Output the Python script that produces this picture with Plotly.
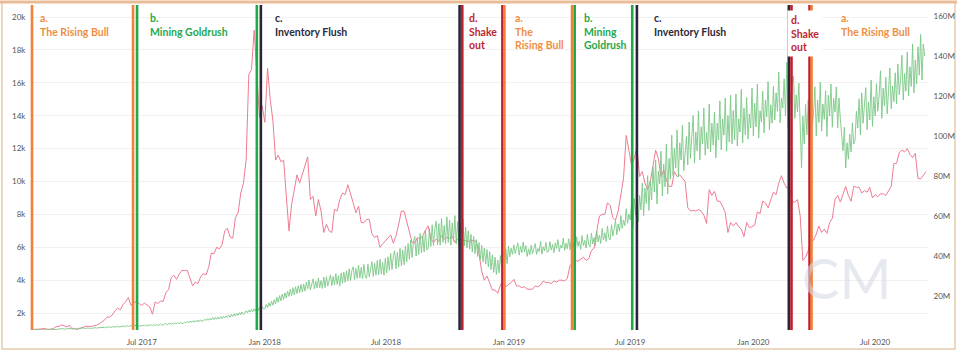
import pandas as pd
import plotly.graph_objects as go

# ---------------- data ----------------
price_start = "2017-01-18"    # price: one sample every 4 days
price_step = "4D"
metric_start = "2017-01-18"   # metric: one sample every 2 days
metric_step = "2D"

# price (left axis, USD)
price = [
    990, 1000, 1010, 1020,                                   # 2017 Jan
    1030, 1060, 1000, 1010, 1050, 1170, 1190,                # Feb
    1280, 1230, 1170, 1250, 1030, 1040, 1010, 1070,          # Mar
    1140, 1190, 1200, 1180, 1230, 1250, 1330,                # Apr
    1450, 1560, 1750, 1760, 1880, 2140, 2300, 2200,          # May
    2520, 2690, 2950, 2460, 2620, 2700, 2580,                # Jun
    2460, 2610, 2500, 2360, 1930, 2670, 2580, 2730,          # Jul
    2710, 3230, 3420, 4150, 4300, 4050, 4360, 4600,          # Aug
    4580, 4600, 4130, 3650, 3880, 3790, 4200,                # Sep
    4400, 4320, 4780, 5650, 5600, 6000, 5900, 6140,          # Oct
    7000, 7150, 6620, 6550, 7800, 8100, 9300, 9900,          # Nov
    11300, 16500, 16800, 19200, 16600, 13900, 14600,         # Dec
    13600, 16900, 15000, 13700, 11300, 11600, 11200, 11300,  # 2018 Jan
    8900, 7000, 8600, 9500, 10400, 9900, 10400,              # Feb
    11000, 11500, 8900, 9100, 7900, 8900, 8200, 6900,        # Mar
    7400, 7000, 6900, 8300, 8200, 8900, 9300,                # Apr
    9200, 9800, 9300, 8700, 8100, 8500, 7500, 7500,          # May
    7700, 7700, 6800, 6600, 6700, 6000, 6200, 6400,          # Jun
    6600, 6750, 6250, 6700, 7400, 8200, 8200,                # Jul
    7600, 7000, 6300, 6250, 6600, 6500, 6700, 7050,          # Aug
    7300, 6500, 6300, 6500, 6350, 6700, 6500, 6600,          # Sep
    6550, 6650, 6300, 6500, 6450, 6450, 6400,                # Oct
    6350, 6400, 6400, 6350, 5600, 4550, 4000, 4250,          # Nov
    3850, 3400, 3400, 3200, 3700, 3950, 3600, 3700,          # Dec
    3850, 4050, 3650, 3650, 3550, 3600, 3450,                # 2019 Jan
    3450, 3450, 3650, 3600, 3700, 3950, 3850,                # Feb
    3850, 3800, 3950, 3880, 4000, 4000, 3950, 4100,          # Mar
    4900, 5050, 5200, 5150, 5300, 5400, 5200, 5300,          # Apr
    5800, 5950, 7000, 7900, 8000, 8000, 8700,                # May
    8550, 7800, 7650, 8200, 9300, 10200, 12800, 12000,       # Jun
    11000, 11400, 12100, 10300, 10600, 9900, 9500, 10000,    # Jul
    10900, 11900, 11400, 10300, 10700, 10100, 9700,          # Aug
    9700, 10600, 10300, 10400, 10200, 10000, 8400, 8200,     # Sep
    8250, 8200, 8300, 8200, 7950, 7450, 9500, 9150,          # Oct
    9400, 8800, 8800, 8500, 8100, 6900, 7500,                # Nov
    7300, 7500, 7250, 7100, 6650, 7500, 7200, 7250,          # Dec
    7350, 8150, 8050, 8800, 8700, 8400, 8900, 9350,          # 2020 Jan
    9200, 9900, 10350, 9900, 9600, 9650, 8750,               # Feb
    8750, 8900, 7900, 5200, 5400, 5800, 6400, 6430,          # Mar
    6800, 7300, 6900, 7100, 6850, 7500, 7750,                # Apr
    8900, 9150, 8750, 9300, 9700, 9150, 8800, 9700,          # May
    9650, 9650, 9300, 9450, 9350, 9650, 9000,                # Jun
    9200, 9070, 9250, 9250, 9150, 9400, 9700, 11100,         # Jul
    11100, 11750, 11900, 11800, 12000, 11650, 11450, 11700,  # Aug
    10200, 10150, 10400, 10600,                              # Sep
]

# metric (right axis, millions), one value every 2 days
metric_2017 = [
    3.0, 3.1, 2.9, 3.0, 3.2, 3.0, 3.1,
    3.1, 3.3, 3.2, 3.0, 3.3, 3.4, 3.2, 3.1, 3.4, 3.3, 3.5, 3.2, 3.4, 3.5,
    3.4, 3.6, 3.7, 3.5, 3.4, 3.7, 3.6, 3.8, 3.5, 3.6, 3.9, 3.7, 3.6, 3.8, 3.9, 3.7,
    3.8, 4.0, 3.9, 3.7, 4.0, 4.1, 3.9, 3.8, 4.1, 4.0, 4.2, 3.9, 4.1, 4.2, 4.0,
    4.2, 4.4, 4.3, 4.1, 4.5, 4.4, 4.6, 4.3, 4.5, 4.7, 4.4, 4.6, 4.8, 4.5, 4.7,
    4.8, 5.0, 4.7, 4.9, 5.1, 4.8, 5.0, 5.2, 4.9, 5.1, 5.0, 5.3, 4.9, 5.2, 5.1,
    5.0, 5.4, 5.1, 5.6, 5.0, 5.5, 5.2, 5.8, 5.1, 5.6, 5.3, 5.9, 5.2, 5.7, 6.0, 5.4,
    5.5, 6.0, 6.3, 5.6, 6.1, 6.5, 5.7, 6.4, 5.9, 6.6, 6.0, 6.8, 6.1, 6.9, 6.2,
    6.3, 7.0, 6.5, 7.3, 6.6, 7.5, 6.8, 7.6, 6.9, 7.8, 7.0, 8.0, 7.2, 8.1, 7.3,
    7.6, 8.4, 7.7, 8.7, 7.9, 8.9, 8.0, 9.2, 8.2, 9.3, 8.4, 9.5, 8.5, 9.7, 8.7, 9.8,
    9.0, 10.1, 9.2, 10.5, 9.4, 10.8, 9.7, 11.1, 10.0, 11.4, 10.3, 11.7, 10.6, 12.0, 10.9,
    11.4, 12.6, 11.6, 13.0, 11.9, 13.3, 12.1, 13.6, 12.4, 14.0, 12.7, 14.3, 13.0, 14.6, 13.5,
]
metric_2018 = [
    13.6, 15.8, 14.2, 16.6, 14.8, 17.4, 15.4, 18.2, 16.0, 19.4, 16.8, 20.2, 17.6, 21.0, 18.2, 21.6,
    19.0, 22.4, 19.8, 23.4, 20.2, 24.2, 20.6, 24.6, 21.2, 25.2, 21.6, 25.8, 22.0, 26.0,
    22.4, 27.0, 23.6, 28.0, 23.0, 26.4, 28.6, 23.6, 27.4, 24.0, 29.0, 24.2, 27.8, 23.8, 29.4,
    24.2, 29.6, 25.0, 28.4, 30.6, 25.2, 29.8, 25.6, 31.2, 25.8, 30.2, 25.0, 31.6, 26.4, 32.0,
    26.8, 32.6, 27.6, 33.6, 27.8, 32.8, 34.6, 28.2, 33.8, 28.8, 35.4, 29.0, 34.4, 28.6, 35.8, 29.6,
    28.8, 36.0, 29.6, 34.6, 37.2, 29.8, 36.4, 30.4, 37.8, 30.6, 38.4, 31.0, 36.8, 30.4, 38.8,
    31.6, 39.6, 32.8, 41.2, 33.2, 40.2, 42.6, 33.6, 41.8, 34.4, 43.8, 35.2, 43.0, 35.6, 45.0,
    37.0, 46.2, 38.4, 48.0, 39.2, 46.8, 49.8, 40.0, 48.6, 40.8, 51.2, 41.6, 50.0, 42.0, 52.8, 43.0,
    43.6, 53.8, 44.8, 55.6, 45.2, 53.4, 57.4, 45.6, 56.2, 45.4, 58.8, 46.8, 55.2, 46.2, 59.6,
    46.8, 58.0, 45.4, 56.6, 47.6, 60.2, 46.0, 57.2, 44.6, 55.4, 46.4, 58.4, 45.0, 54.4, 44.0,
    52.6, 43.4, 50.8, 42.0, 49.8, 41.2, 48.2, 39.8, 46.8, 38.2, 45.4, 37.0, 44.0, 36.0, 43.2,
    34.6, 42.2, 33.2, 40.6, 31.8, 39.4, 30.8, 38.0, 31.6, 40.2, 33.4, 41.8, 35.2, 43.6, 36.2, 45.0,
]
metric_2019 = [
    39.6, 44.0, 40.8, 45.6, 41.2, 43.4, 46.6, 40.4, 44.8, 41.6, 47.0, 42.0, 45.2, 39.8, 43.6,
    40.6, 45.4, 41.2, 44.0, 46.2, 40.8, 43.8, 42.2, 47.4, 41.0, 44.6, 42.6, 46.8, 41.8,
    42.4, 47.2, 43.0, 45.8, 41.6, 46.6, 43.8, 48.2, 42.2, 45.4, 44.0, 49.0, 42.8, 46.4, 43.6, 48.6,
    43.2, 48.8, 44.0, 46.6, 42.6, 49.6, 44.8, 47.4, 43.4, 50.2, 45.2, 47.8, 44.0, 50.8, 45.6,
    44.6, 51.4, 46.0, 49.2, 45.2, 52.6, 47.0, 50.4, 46.2, 53.8, 48.0, 51.6, 47.2, 55.0, 49.0,
    48.0, 55.6, 50.0, 53.6, 57.8, 50.6, 56.0, 52.4, 60.2, 53.8, 58.0, 55.2, 63.6, 56.4, 61.0,
    58.0, 66.4, 54.0, 68.8, 60.6, 72.0, 57.0, 70.4, 63.0, 76.4, 60.2, 74.0, 66.2, 80.2, 62.8, 77.6,
    68.0, 84.6, 72.0, 88.0, 66.0, 82.4, 76.0, 92.4, 70.0, 86.0, 74.6, 96.0, 71.0, 88.8, 78.4,
    100.4, 80.2, 94.0, 84.0, 103.0, 79.6, 96.6, 88.0, 105.4, 82.6, 92.0, 99.8, 85.6, 107.0, 88.8,
    98.0, 110.2, 86.4, 102.0, 92.6, 112.6, 88.0, 104.6, 96.0, 114.0, 90.4, 101.8, 93.6, 116.0, 92.0, 106.4,
    95.4, 112.0, 89.0, 106.4, 98.0, 117.6, 93.0, 108.6, 100.4, 119.0, 92.4, 110.2, 97.0, 120.4, 96.0,
    112.8, 98.0, 121.0, 95.0, 108.6, 102.0, 123.4, 96.6, 114.0, 100.6, 119.2, 98.4, 111.0, 104.0, 124.0,
]
metric_2020 = [
    100.0, 116.4, 104.6, 126.0, 99.0, 112.6, 107.0, 122.4, 101.6, 118.0, 109.6, 127.2, 103.0, 115.6, 106.4, 124.8,
    108.0, 121.6, 112.4, 132.0, 106.6, 119.0, 114.0, 128.6, 110.2, 136.8, 104.0, 122.0, 116.6, 126.4,
    130.0, 108.8, 120.6, 112.0, 126.4, 101.0, 84.0, 110.0, 96.0, 115.8, 100.6, 118.2, 98.0, 121.0, 104.6, 112.0,
    124.6, 100.0, 118.0, 106.8, 127.0, 102.4, 116.0, 108.4, 122.6, 99.8, 120.4, 110.0, 126.0, 104.4, 118.8,
    112.0, 124.6, 104.0, 119.0, 108.6, 98.0, 92.6, 104.4, 84.0, 96.6, 88.4, 101.0, 92.0, 106.6, 96.0,
    98.0, 112.4, 104.0, 118.6, 100.6, 121.6, 106.4, 114.0, 124.2, 103.2, 117.0, 108.0, 128.0, 104.8, 119.6,
    110.0, 126.2, 112.4, 120.0, 132.6, 108.8, 124.0, 115.0, 129.4, 111.0, 122.6, 134.0, 113.6, 125.0, 117.2, 131.6,
    116.0, 136.0, 120.6, 128.0, 140.4, 118.0, 131.2, 122.4, 142.0, 120.0, 134.6, 124.8, 146.0, 121.6, 138.0,
    126.0, 144.6, 130.4, 150.8, 128.0, 146.0, 140.0,
]
metric = metric_2017 + metric_2018 + metric_2019 + metric_2020

# phase boundary lines
boundary_dates = [
    "2017-01-18",
    "2017-06-18", "2017-06-24",
    "2017-12-20", "2017-12-26",
    "2018-10-19", "2018-10-23",
    "2018-12-22", "2018-12-25",
    "2019-04-05", "2019-04-09",
    "2019-07-04", "2019-07-11",
    "2020-02-23", "2020-02-27",
    "2020-03-25", "2020-03-28",
]
boundary_phase = ["a", "a", "b", "b", "c", "c", "d", "d", "a",
                  "a", "b", "b", "c", "c", "d", "d", "a"]

label_dates = ["2017-01-27", "2017-07-10", "2018-01-13", "2018-10-30", "2019-01-07",
               "2019-04-20", "2019-08-03", "2020-02-21", "2020-05-08"]
label_texts = ["a.<br>The Rising Bull", "b.<br>Mining Goldrush", "c.<br>Inventory Flush",
               "d.<br>Shake<br>out", "a.<br>The<br>Rising Bull", "b.<br>Mining<br>Goldrush",
               "c.<br>Inventory Flush", "d.<br>Shake<br>out", "a.<br>The Rising Bull"]
label_phase = ["a", "b", "c", "d", "a", "b", "c", "d", "a"]

x_tick_dates = ["2017-07-01", "2018-01-01", "2018-07-01", "2019-01-01",
                "2019-07-01", "2020-01-01", "2020-07-01"]
x_tick_text = ["Jul 2017", "Jan 2018", "Jul 2018", "Jan 2019", "Jul 2019", "Jan 2020", "Jul 2020"]
left_ticks = [2000, 4000, 6000, 8000, 10000, 12000, 14000, 16000, 18000, 20000]
left_tick_text = ["2k", "4k", "6k", "8k", "10k", "12k", "14k", "16k", "18k", "20k"]
right_ticks = [20, 40, 60, 80, 100, 120, 140, 160]
right_tick_text = ["20M", "40M", "60M", "80M", "100M", "120M", "140M", "160M"]

# ---------------- styles ----------------
phase_color = {"a": "#F08E42", "b": "#25A84B", "c": "#2B2A3A", "d": "#C21F2E"}
line_color = {"a": "#F0823A", "b": "#1FAA4A", "c": "#2A2638", "d": "#BE1E2D"}
FONT = "Lato"

W, H = 960, 353
ML, MR, MT, MB = 30, 32, 5, 23

price_dates = pd.date_range(price_start, periods=len(price), freq=price_step)
metric_dates = pd.date_range(metric_start, periods=len(metric), freq=metric_step)

fig = go.Figure()
fig.add_trace(go.Scatter(x=metric_dates, y=metric, yaxis="y2", mode="lines",
                         line=dict(color="#7CC887", width=0.9), hoverinfo="skip"))
fig.add_trace(go.Scatter(x=price_dates, y=price, yaxis="y", mode="lines",
                         line=dict(color="#EE7C93", width=1), hoverinfo="skip"))

shapes = []
for d, p in zip(boundary_dates, boundary_phase):
    shapes.append(dict(type="line", xref="x", yref="paper", x0=d, x1=d, y0=0, y1=1.0,
                       line=dict(color=line_color[p], width=2.6), layer="above"))

pw = W - ML - MR
ph = H - MT - MB
def px2paper_x(px):
    return (px - ML) / pw
def px2paper_y(py):
    return (H - MB - py) / ph

# outer frame
shapes.append(dict(type="rect", xref="paper", yref="paper",
                   x0=px2paper_x(2), x1=px2paper_x(955), y0=px2paper_y(349), y1=px2paper_y(2),
                   line=dict(color="#E6CBAE", width=1.5), layer="below"))
shapes.append(dict(type="line", xref="paper", yref="paper",
                   x0=px2paper_x(0), x1=px2paper_x(957), y0=px2paper_y(2), y1=px2paper_y(2),
                   line=dict(color="#E9BC96", width=3), layer="above"))

annotations = [dict(x=px2paper_x(846), y=px2paper_y(277), xref="paper", yref="paper",
                    xanchor="center", yanchor="middle", text="CM", showarrow=False,
                    font=dict(family=FONT, size=56, color="rgba(214,219,228,0.6)"))]
for d, t, p in zip(label_dates, label_texts, label_phase):
    a = dict(x=d, xref="x", y=px2paper_y(10), yref="paper", xanchor="left", yanchor="top",
             text="<b>" + t + "</b>", showarrow=False, align="left",
             font=dict(family=FONT, size=10.5, color=phase_color[p]))
    if d == "2020-02-21":
        a.update(bgcolor="white", borderpad=3)
    annotations.append(a)

fig.update_layout(
    width=W, height=H,
    margin=dict(l=ML, r=MR, t=MT, b=MB),
    paper_bgcolor="white", plot_bgcolor="white",
    showlegend=False,
    shapes=shapes, annotations=annotations,
    xaxis=dict(type="date", range=["2017-01-15", "2020-09-18"],
               tickvals=x_tick_dates, ticktext=x_tick_text,
               tickfont=dict(family=FONT, size=8, color="#555"),
               showgrid=False, zeroline=False, showline=False,
               ticks="outside", ticklen=4, tickcolor="rgba(0,0,0,0)"),
    yaxis=dict(range=[970, 20730], tickvals=left_ticks, ticktext=left_tick_text,
               tickfont=dict(family=FONT, size=8, color="#555"),
               showgrid=True, gridcolor="#F1F1F1", gridwidth=1, zeroline=False,
               ticks="outside", ticklen=2, tickcolor="rgba(0,0,0,0)"),
    yaxis2=dict(range=[3, 165.5], overlaying="y", side="right",
                tickvals=right_ticks, ticktext=right_tick_text,
                tickfont=dict(family=FONT, size=8, color="#555"),
                showgrid=False, zeroline=False,
                ticks="outside", ticklen=3, tickcolor="rgba(0,0,0,0)"),
)

fig.write_html("out.html")
